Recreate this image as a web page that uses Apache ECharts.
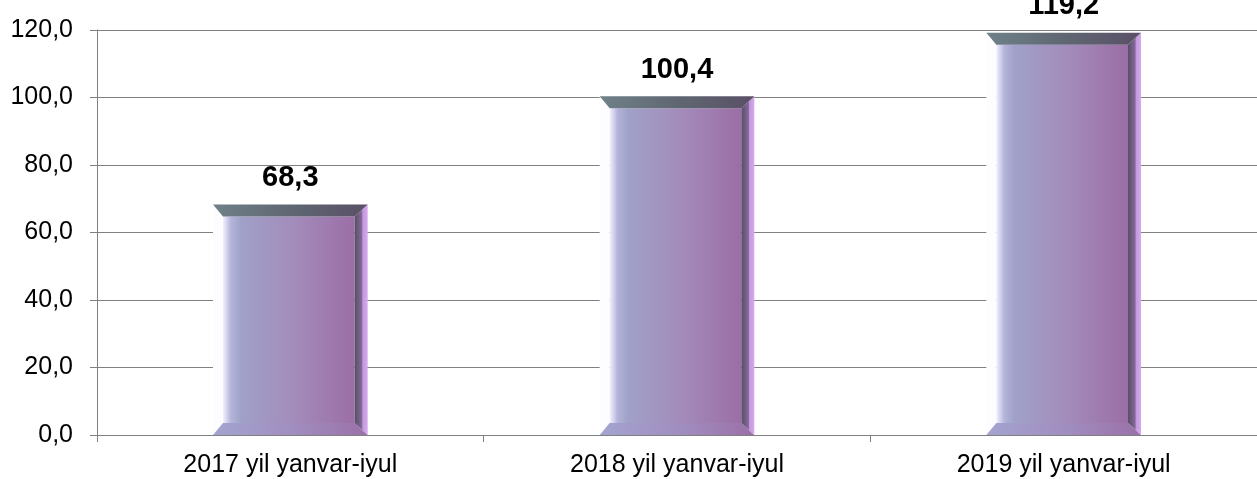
<!DOCTYPE html>
<html>
<head>
<meta charset="utf-8">
<script src="https://cdn.jsdelivr.net/npm/echarts@6/dist/echarts.min.js"></script>
<style>
  html, body { margin: 0; padding: 0; background: #fff; }
  #chart { width: 1257px; height: 479px; }
</style>
</head>
<body>
<div id="chart"></div>
<script>
// 数据
const categories = ['2017 yil yanvar-iyul', '2018 yil yanvar-iyul', '2019 yil yanvar-iyul'];
const values = [68.3, 100.4, 119.2];
const yTicks = { min: 0, max: 120, interval: 20 };

const fontFamily = '"Liberation Sans", Arial, sans-serif';
const fmt = v => v.toFixed(1).replace('.', ',');
const G = echarts.graphic;

// 斜面柱子 (Excel bevel)
function renderBar(params, api) {
  const i = api.value(0);
  const v = api.value(1);
  const top = api.coord([i, v]);
  const base = api.coord([i, 0]);
  const bw = api.size([1, 0])[0] * 0.4;
  const x0 = top[0] - bw / 2, x1 = top[0] + bw / 2;
  const yT = top[1], yB = base[1];
  const bl = 10, br = 13, bt = 12, bb = 12;

  return {
    type: 'group',
    children: [
      {
        type: 'rect',
        shape: {x: x0 + bl, y: yT + bt, width: bw - bl - br, height: yB - yT - bt - bb},
        style: {
          fill: new G.LinearGradient(0, 0, 1, 0, [
            {offset: 0, color: '#f2f0ff'},
            {offset: 0.06, color: '#b4b4da'},
            {offset: 0.14, color: '#a0a1c8'},
            {offset: 0.55, color: '#a38bba'},
            {offset: 1, color: '#9b6ea6'}
          ])
        }
      },
      {
        type: 'polygon',
        shape: {points: [[x0, yT], [x0 + bl, yT + bt], [x0 + bl, yB - bb], [x0, yB]]},
        style: {fill: '#fdfcff'}
      },
      {
        type: 'polygon',
        shape: {points: [[x0, yB], [x0 + bl, yB - bb], [x1 - br, yB - bb], [x1, yB]]},
        style: {
          fill: new G.LinearGradient(0, 0, 1, 0, [
            {offset: 0, color: '#a4a4d0'},
            {offset: 0.55, color: '#a08cbe'},
            {offset: 1, color: '#9a70a8'}
          ])
        }
      },
      {
        type: 'polygon',
        shape: {points: [[x1 - br, yT + bt], [x1, yT], [x1, yB], [x1 - br, yB - bb]]},
        style: {
          fill: new G.LinearGradient(0, 0, 1, 0, [
            {offset: 0, color: '#574e66'},
            {offset: 0.55, color: '#86699a'},
            {offset: 0.62, color: '#c497de'},
            {offset: 1, color: '#d4aaec'}
          ])
        }
      },
      {
        type: 'polygon',
        shape: {points: [[x0, yT], [x1, yT], [x1 - br, yT + bt], [x0 + bl, yT + bt]]},
        style: {
          fill: new G.LinearGradient(0, 0, 1, 0, [
            {offset: 0, color: '#6f8188'},
            {offset: 0.5, color: '#5f6772'},
            {offset: 1, color: '#5a5066'}
          ])
        }
      },
      {
        type: 'text',
        x: top[0],
        y: yT - 12,
        style: {
          text: fmt(v),
          align: 'center',
          verticalAlign: 'bottom',
          font: 'bold 29px ' + fontFamily,
          fill: '#000'
        }
      }
    ]
  };
}

const chart = echarts.init(document.getElementById('chart'));
chart.setOption({
  backgroundColor: '#fff',
  animation: false,
  grid: {left: 97, right: -7, top: 30, bottom: 44},
  xAxis: {
    type: 'category',
    data: categories,
    boundaryGap: true,
    axisLine: {lineStyle: {color: '#808080', width: 1}},
    axisTick: {show: true, length: 7, lineStyle: {color: '#808080'}},
    axisLabel: {color: '#000', fontSize: 25, fontFamily, margin: 18}
  },
  yAxis: {
    type: 'value',
    min: yTicks.min,
    max: yTicks.max,
    interval: yTicks.interval,
    axisLine: {show: true, lineStyle: {color: '#808080', width: 1}},
    axisTick: {show: true, length: 7, lineStyle: {color: '#808080'}},
    axisLabel: {color: '#000', fontSize: 25, fontFamily, margin: 24, formatter: v => fmt(v)},
    splitLine: {lineStyle: {color: '#808080', width: 1}}
  },
  series: [{
    type: 'custom',
    renderItem: renderBar,
    encode: {x: 0, y: 1},
    data: values.map((v, i) => [i, v])
  }]
});
</script>
</body>
</html>
